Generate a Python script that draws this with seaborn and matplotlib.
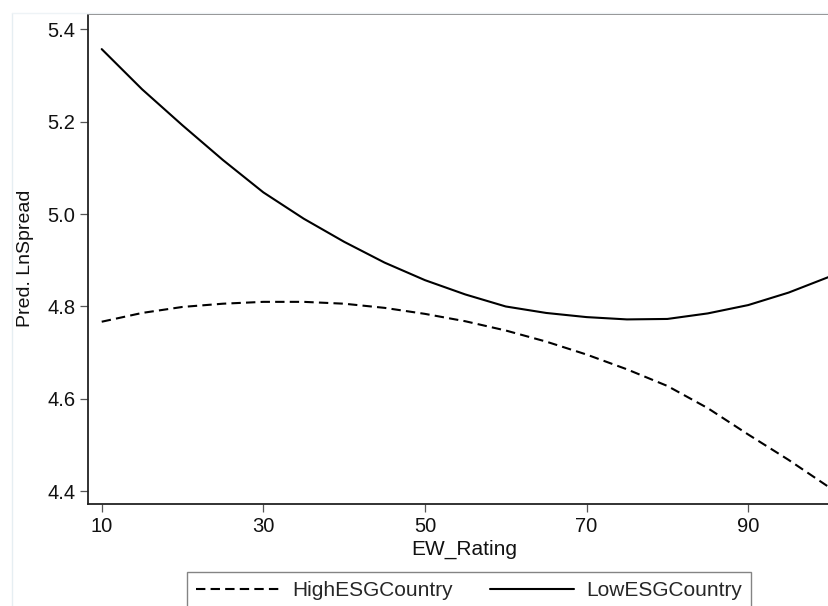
import matplotlib
matplotlib.use("Agg")
import matplotlib.pyplot as plt
import seaborn as sns
import pandas as pd
from matplotlib.lines import Line2D

ew_rating = [10, 15, 20, 25, 30, 35, 40, 45, 50, 55, 60, 65, 70, 75, 80, 85, 90, 95, 100]
high_esg = [4.767, 4.786, 4.799, 4.806, 4.810, 4.810, 4.806, 4.797, 4.784, 4.768,
            4.748, 4.724, 4.696, 4.664, 4.628, 4.580, 4.523, 4.468, 4.409]
low_esg = [5.357, 5.270, 5.192, 5.117, 5.047, 4.990, 4.940, 4.895, 4.857, 4.826,
           4.800, 4.786, 4.777, 4.772, 4.773, 4.785, 4.803, 4.830, 4.864]
series_names = ["HighESGCountry", "LowESGCountry"]
x_ticks = [10, 30, 50, 70, 90]
y_ticks = [4.4, 4.6, 4.8, 5.0, 5.2, 5.4]

sns.set_theme(style="white")
plt.rcParams["font.family"] = ["Liberation Sans", "DejaVu Sans"]

df = pd.DataFrame({
    "EW_Rating": ew_rating * 2,
    "Pred": high_esg + low_esg,
    "Group": [series_names[0]] * len(ew_rating) + [series_names[1]] * len(ew_rating),
})

W, H = 829, 606
fig = plt.figure(figsize=(W / 100, H / 100), dpi=100)
left, right, bottom, top = 88.3, 833.0, 504.0, 14.0
ax = fig.add_axes([left / W, 1 - bottom / H, (right - left) / W, (bottom - top) / H])

dash = (0, (4.5, 2.5))
sns.lineplot(data=df[df.Group == series_names[0]], x="EW_Rating", y="Pred",
             color="black", lw=1.5, ax=ax, legend=False)
sns.lineplot(data=df[df.Group == series_names[1]], x="EW_Rating", y="Pred",
             color="black", lw=1.5, ax=ax, legend=False)
ax.lines[0].set_linestyle(dash)

ax.set_xlim(8.34, 100.5)
ax.set_ylim(4.3725, 5.433)
ax.set_xticks(x_ticks)
ax.set_yticks(y_ticks)
ax.set_yticklabels([f"{v:.1f}" for v in y_ticks])
ax.tick_params(axis="both", which="major", direction="out", length=5.8, width=0.9,
               color="#555555", labelsize=14.5, pad=3.5, labelcolor="#111111")
ax.tick_params(axis="x", bottom=True)
ax.tick_params(axis="y", left=True)

for s in ["left", "bottom"]:
    ax.spines[s].set_color("#222222")
    ax.spines[s].set_linewidth(1.3)
ax.spines["top"].set_color("#777777")
ax.spines["top"].set_linewidth(1.3)
ax.spines["right"].set_visible(False)

ax.set_xlabel("EW_Rating", fontsize=15, color="#111111")
ax.set_ylabel("Pred. LnSpread", fontsize=14, color="#111111")
ax.xaxis.set_label_coords((464 - left) / (right - left), -(540 - bottom) / (bottom - top))
ax.xaxis.label.set_va("top")
ax.yaxis.set_label_coords(-(88.3 - 34) / (right - left), (bottom - 258) / (bottom - top))

handles = [Line2D([], [], color="black", lw=1.5, linestyle=dash),
           Line2D([], [], color="black", lw=1.5)]
leg = fig.legend(handles, series_names, loc="upper left", ncol=2,
                 bbox_to_anchor=(187 / W, 1 - 572 / H), frameon=True, fancybox=False,
                 fontsize=15, handlelength=4.0, handletextpad=0.6, columnspacing=1.8,
                 borderpad=0.45, borderaxespad=0, edgecolor="#666666")
leg.get_frame().set_linewidth(1.0)

fig.add_artist(Line2D([12.3 / W, 12.3 / W], [0, 1 - 13 / H], transform=fig.transFigure,
                      color="#e6eef2", lw=1))
fig.add_artist(Line2D([12.3 / W, 1], [1 - 13 / H, 1 - 13 / H], transform=fig.transFigure,
                      color="#eef3f6", lw=1))

fig.savefig("out.png", dpi=100)
